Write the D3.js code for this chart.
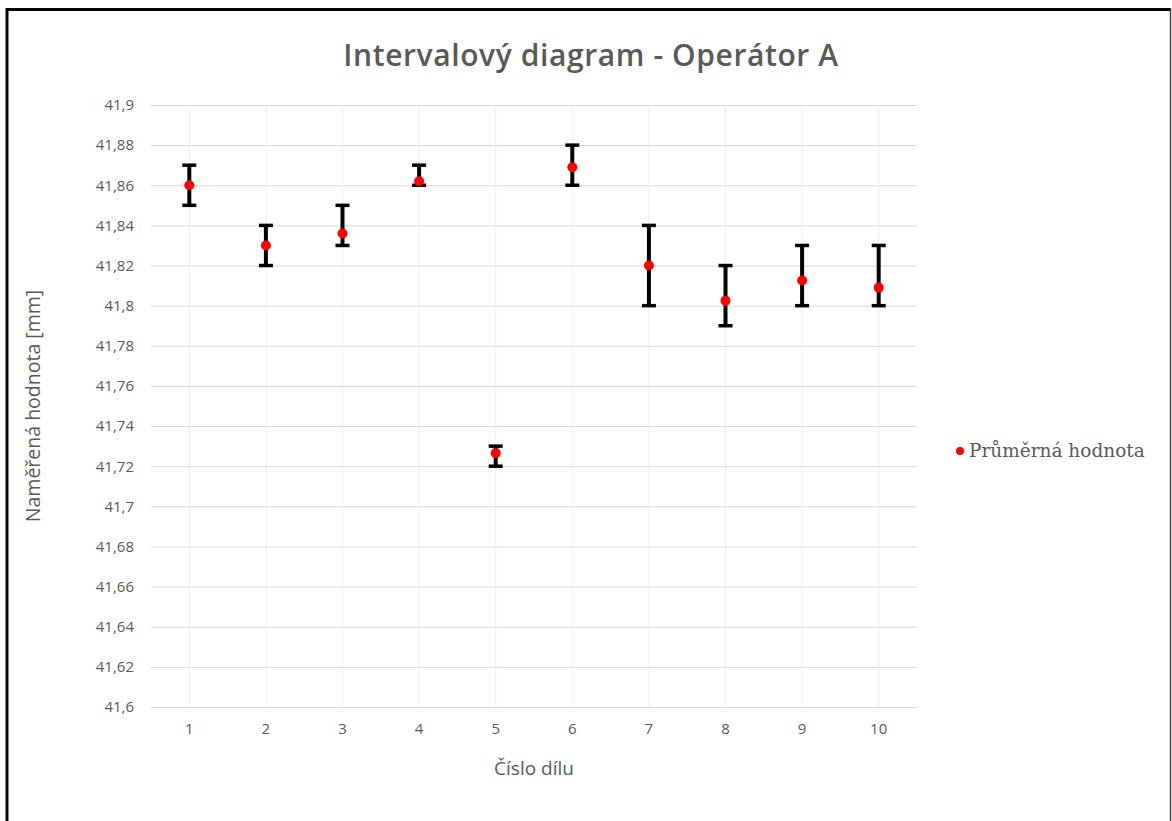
<!DOCTYPE html>
<html>
<head>
<meta charset="utf-8">
<script src="https://cdn.jsdelivr.net/npm/d3@7"></script>
<style>
    body { margin: 0; background: #fff; }
    svg { display: block; }
</style>
</head>
<body>
<div id="chart"></div>
<script>
// data
let parts = ["1", "2", "3", "4", "5", "6", "7", "8", "9", "10"];
let means = [41.86, 41.83, 41.836, 41.862, 41.7265, 41.869, 41.82, 41.8025, 41.8125, 41.809];
let upper = [41.87, 41.84, 41.85, 41.87, 41.73, 41.88, 41.84, 41.82, 41.83, 41.83];
let lower = [41.85, 41.82, 41.83, 41.86, 41.72, 41.86, 41.80, 41.79, 41.80, 41.80];
let yTicks = [41.6, 41.62, 41.64, 41.66, 41.68, 41.7, 41.72, 41.74, 41.76, 41.78, 41.8, 41.82, 41.84, 41.86, 41.88, 41.9];

let width = 1172, height = 821;
let plot = {left: 151, right: 917, top: 105, bottom: 707};
let textColor = "#595959";

let svg = d3.select("#chart").append("svg")
    .attr("width", width)
    .attr("height", height);

// frame of the screenshot
svg.append("rect").attr("x", 0).attr("y", 0).attr("width", width).attr("height", height).attr("fill", "#fff");
svg.append("line").attr("x1", 7).attr("x2", 1170).attr("y1", 9.5).attr("y2", 9.5)
    .attr("stroke", "#000").attr("stroke-width", 3);
svg.append("line").attr("x1", 7).attr("x2", 7).attr("y1", 8).attr("y2", height)
    .attr("stroke", "#000").attr("stroke-width", 3);
svg.append("line").attr("x1", 1170.5).attr("x2", 1170.5).attr("y1", 8).attr("y2", height)
    .attr("stroke", "#444").attr("stroke-width", 1.5);

// scales
let x = d3.scaleBand()
    .domain(parts)
    .range([plot.left, plot.right]);

let y = d3.scaleLinear()
    .domain([41.6, 41.9])
    .range([plot.bottom, plot.top]);

// horizontal grid
let yAxis = svg.append("g")
    .attr("transform", "translate(" + plot.left + ",0)")
    .call(d3.axisLeft(y).tickValues(yTicks).tickSize(-(plot.right - plot.left))
        .tickFormat(d => String(+d.toFixed(2)).replace(".", ",")));
yAxis.select(".domain").remove();
yAxis.selectAll(".tick line").attr("stroke", "#d9d9d9").attr("stroke-width", 1);
yAxis.selectAll(".tick text")
    .attr("x", -17)
    .attr("fill", textColor)
    .style("font-family", "'Open Sans', sans-serif")
    .style("font-size", "15px");

// vertical grid at category centres
svg.append("g").selectAll("line")
    .data(parts)
    .enter()
    .append("line")
    .attr("x1", d => x(d) + x.bandwidth() / 2)
    .attr("x2", d => x(d) + x.bandwidth() / 2)
    .attr("y1", plot.top)
    .attr("y2", plot.bottom)
    .attr("stroke", "#eeeeee");

// x axis
let xAxis = svg.append("g")
    .attr("transform", "translate(0," + plot.bottom + ")")
    .call(d3.axisBottom(x).tickSize(0).tickPadding(16));
xAxis.select(".domain").attr("stroke", "#d9d9d9");
xAxis.selectAll(".tick text")
    .attr("fill", textColor)
    .style("font-family", "'Open Sans', sans-serif")
    .style("font-size", "15px");

// error bars
let bars = svg.append("g").selectAll("g")
    .data(parts)
    .enter()
    .append("g")
    .attr("transform", d => "translate(" + (x(d) + x.bandwidth() / 2) + ",0)");

bars.append("line")
    .attr("y1", (d, i) => y(upper[i]))
    .attr("y2", (d, i) => y(lower[i]))
    .attr("stroke", "#000").attr("stroke-width", 4);
bars.append("line")
    .attr("x1", -7).attr("x2", 7)
    .attr("y1", (d, i) => y(upper[i])).attr("y2", (d, i) => y(upper[i]))
    .attr("stroke", "#000").attr("stroke-width", 3.5);
bars.append("line")
    .attr("x1", -7).attr("x2", 7)
    .attr("y1", (d, i) => y(lower[i])).attr("y2", (d, i) => y(lower[i]))
    .attr("stroke", "#000").attr("stroke-width", 3.5);

// mean points
bars.append("circle")
    .attr("cy", (d, i) => y(means[i]))
    .attr("r", 5)
    .attr("fill", "#ff0000");

// title
svg.append("text")
    .attr("x", 591)
    .attr("y", 66)
    .attr("text-anchor", "middle")
    .attr("fill", textColor)
    .style("font-family", "'Open Sans', sans-serif")
    .style("font-weight", "600")
    .style("font-size", "30px")
    .style("letter-spacing", "0.6px")
    .text("Intervalový diagram - Operátor A");

// axis titles
svg.append("text")
    .attr("x", 534)
    .attr("y", 775)
    .attr("text-anchor", "middle")
    .attr("fill", textColor)
    .style("font-family", "'Open Sans', sans-serif")
    .style("font-size", "19px")
    .text("Číslo dílu");

svg.append("text")
    .attr("transform", "translate(40," + ((plot.top + plot.bottom) / 2) + ") rotate(-90)")
    .attr("text-anchor", "middle")
    .attr("fill", textColor)
    .style("font-family", "'Open Sans', sans-serif")
    .style("font-size", "19.5px")
    .text("Naměřená hodnota [mm]");

// legend
svg.append("circle")
    .attr("cx", 960).attr("cy", 451).attr("r", 4)
    .attr("fill", "#ff0000");
svg.append("text")
    .attr("x", 969).attr("y", 457)
    .attr("fill", textColor)
    .style("font-family", "'DejaVu Serif', serif")
    .style("font-size", "18.5px")
    .text("Průměrná hodnota");
</script>
</body>
</html>
